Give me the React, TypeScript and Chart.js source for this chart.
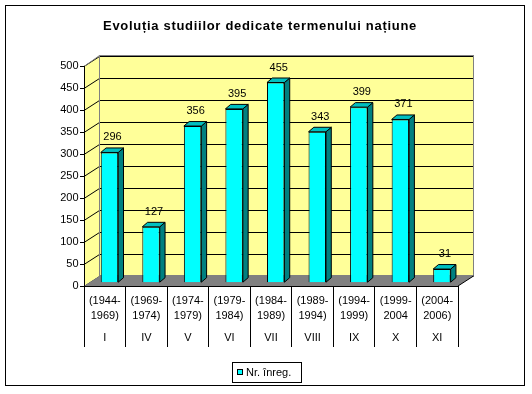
import React, { useEffect, useRef } from "react";
import { Chart, registerables } from "chart.js";

Chart.register(...registerables);

const chartTitle = "Evoluția studiilor dedicate termenului națiune";
const seriesName = "Nr. înreg.";
const periodLabels: string[][] = [
  ["(1944-", "1969)"],
  ["(1969-", "1974)"],
  ["(1974-", "1979)"],
  ["(1979-", "1984)"],
  ["(1984-", "1989)"],
  ["(1989-", "1994)"],
  ["(1994-", "1999)"],
  ["(1999-", "2004"],
  ["(2004-", "2006)"],
];
const romanLabels = ["I", "IV", "V", "VI", "VII", "VIII", "IX", "X", "XI"];
const values = [296, 127, 356, 395, 455, 343, 399, 371, 31];
const yMin = 0;
const yMax = 500;
const yStep = 50;

const FONT = "'Liberation Sans', Arial, sans-serif";
const WALL_DX = 15.5;
const WALL_DY = 10;
const BAR_OX = 4.7;
const BAR_OY = -3.3;
const BAR_DX = 5.3;
const BAR_DY = 4.5;

export default function App() {
  const ref = useRef<HTMLCanvasElement>(null);

  useEffect(() => {
    const canvas = ref.current!;
    const plugin = {
      id: "excel3d",
      beforeDraw(chart: any) {
        const ctx = chart.ctx;
        const ys = chart.scales.y;
        const { left, right } = chart.chartArea;
        const y0 = ys.getPixelForValue(yMin);
        const yT = ys.getPixelForValue(yMax);
        ctx.save();
        // side wall
        ctx.fillStyle = "#FFFF99";
        ctx.beginPath();
        ctx.moveTo(left, yT);
        ctx.lineTo(left + WALL_DX, yT - WALL_DY);
        ctx.lineTo(left + WALL_DX, y0 - WALL_DY);
        ctx.lineTo(left, y0);
        ctx.closePath();
        ctx.fill();
        // back wall
        ctx.fillRect(left + WALL_DX, yT - WALL_DY, right - left, y0 - yT);
        // gridlines
        ctx.strokeStyle = "#000";
        ctx.lineWidth = 1;
        for (let v = yMin; v <= yMax; v += yStep) {
          const y = Math.round(ys.getPixelForValue(v)) + 0.5;
          ctx.beginPath();
          ctx.moveTo(left, y);
          ctx.lineTo(left + WALL_DX, y - WALL_DY);
          ctx.lineTo(right + WALL_DX, y - WALL_DY);
          ctx.stroke();
        }
        // wall borders
        ctx.strokeStyle = "#808080";
        const wy = Math.round(yT) - WALL_DY - 0.5;
        ctx.strokeRect(Math.round(left + WALL_DX) - 0.5, wy, right - left, y0 - yT);
        ctx.beginPath();
        ctx.moveTo(left, Math.round(yT) + 0.5);
        ctx.lineTo(left + WALL_DX, wy);
        ctx.stroke();
        // floor
        ctx.fillStyle = "#808080";
        ctx.beginPath();
        ctx.moveTo(left, y0);
        ctx.lineTo(right, y0);
        ctx.lineTo(right + WALL_DX, y0 - WALL_DY);
        ctx.lineTo(left + WALL_DX, y0 - WALL_DY);
        ctx.closePath();
        ctx.fill();
        ctx.strokeStyle = "#000";
        ctx.beginPath();
        ctx.moveTo(right, y0);
        ctx.lineTo(right + WALL_DX, y0 - WALL_DY);
        ctx.stroke();
        ctx.restore();
      },
      beforeDatasetDraw(chart: any) {
        chart.ctx.save();
        chart.ctx.translate(BAR_OX, BAR_OY);
      },
      afterDatasetDraw(chart: any) {
        chart.ctx.restore();
      },
      afterDatasetsDraw(chart: any) {
        const ctx = chart.ctx;
        const meta = chart.getDatasetMeta(0);
        ctx.save();
        ctx.lineWidth = 1;
        ctx.strokeStyle = "#000";
        meta.data.forEach((el: any, i: number) => {
          const p = el.getProps(["x", "y", "base", "width"], true);
          const l = p.x - p.width / 2 + BAR_OX;
          const r = p.x + p.width / 2 + BAR_OX;
          const t = p.y + BAR_OY;
          const b = p.base + BAR_OY;
          // side
          ctx.fillStyle = "#008080";
          ctx.beginPath();
          ctx.moveTo(r, t);
          ctx.lineTo(r + BAR_DX, t - BAR_DY);
          ctx.lineTo(r + BAR_DX, b - BAR_DY);
          ctx.lineTo(r, b);
          ctx.closePath();
          ctx.fill();
          ctx.stroke();
          // top
          ctx.fillStyle = "#00C0C0";
          ctx.beginPath();
          ctx.moveTo(l, t);
          ctx.lineTo(l + BAR_DX, t - BAR_DY);
          ctx.lineTo(r + BAR_DX, t - BAR_DY);
          ctx.lineTo(r, t);
          ctx.closePath();
          ctx.fill();
          ctx.stroke();
          // value label
          ctx.fillStyle = "#000";
          ctx.font = `11px ${FONT}`;
          ctx.textAlign = "center";
          ctx.textBaseline = "alphabetic";
          ctx.fillText(String(values[i]), (l + r) / 2 + 3, t - 12);
        });
        ctx.restore();
      },
      afterDraw(chart: any) {
        const ctx = chart.ctx;
        const xs = chart.scales.x;
        ctx.save();
        // title
        ctx.fillStyle = "#000";
        ctx.font = `bold 13px ${FONT}`;
        ctx.textAlign = "left";
        ctx.textBaseline = "alphabetic";
        try {
          (ctx as any).letterSpacing = "0.7px";
        } catch (e) {}
        const tw = ctx.measureText(chartTitle).width;
        ctx.fillText(chartTitle, 260 - tw / 2, 29.5);
        try {
          (ctx as any).letterSpacing = "0px";
        } catch (e) {}
        // category dividers
        ctx.strokeStyle = "#000";
        ctx.lineWidth = 1;
        for (let i = 0; i <= romanLabels.length; i++) {
          const x = Math.floor(xs.getPixelForValue(i - 0.5)) + 0.5;
          ctx.beginPath();
          ctx.moveTo(x, xs.top);
          ctx.lineTo(x, 347);
          ctx.stroke();
        }
        // legend
        ctx.fillStyle = "#fff";
        ctx.fillRect(232.5, 362.5, 69, 20);
        ctx.strokeRect(232.5, 362.5, 69, 20);
        ctx.fillStyle = "#00FFFF";
        ctx.fillRect(237.5, 369.5, 5, 5);
        ctx.strokeRect(237.5, 369.5, 5, 5);
        ctx.fillStyle = "#000";
        ctx.font = `11px ${FONT}`;
        ctx.textAlign = "left";
        ctx.fillText(seriesName, 246, 376);
        // outer frame
        ctx.strokeRect(5.5, 5.5, 519, 380);
        ctx.restore();
      },
    };

    const tickFont = { size: 11, family: FONT, lineHeight: 15 / 11 };
    const chart = new Chart(canvas, {
      type: "bar",
      data: {
        labels: periodLabels as any,
        datasets: [
          {
            label: seriesName,
            data: values,
            backgroundColor: "#00FFFF",
            borderColor: "#000",
            borderWidth: 1,
            barPercentage: 0.42,
            categoryPercentage: 1,
            clip: false as any,
          },
        ],
      },
      options: {
        responsive: false,
        animation: false,
        devicePixelRatio: 1,
        layout: { padding: { left: 0, top: 66, right: 74, bottom: 0 } },
        plugins: {
          legend: { display: false },
          title: { display: false },
          tooltip: { enabled: false },
        },
        scales: {
          x: {
            type: "category",
            position: "bottom",
            offset: true,
            weight: 0,
            grid: { display: false, drawTicks: false },
            border: { display: true, color: "#000", width: 1 },
            ticks: { color: "#000", font: tickFont, padding: 7.5, maxRotation: 0, autoSkip: false },
            afterFit: (s: any) => {
              s.height = 37;
            },
          },
          x2: {
            type: "category",
            position: "bottom",
            labels: romanLabels,
            offset: true,
            weight: 1,
            grid: { display: false, drawTicks: false },
            border: { display: false },
            ticks: { color: "#000", font: tickFont, padding: 7.5, maxRotation: 0, autoSkip: false },
            afterFit: (s: any) => {
              s.height = 71;
            },
          },
          y: {
            min: yMin,
            max: yMax,
            ticks: { stepSize: yStep, color: "#000", font: { size: 11, family: FONT }, padding: 1.5 },
            grid: { display: true, drawOnChartArea: false, drawTicks: true, tickLength: 4, color: "#000" },
            border: { display: true, color: "#000", width: 1 },
            afterFit: (s: any) => {
              s.width = 84;
            },
          },
        },
      } as any,
      plugins: [plugin],
    });
    return () => chart.destroy();
  }, []);

  return (
    <div style={{ position: "absolute", left: 0, top: 0, width: 532, height: 394, background: "#fff" }}>
      <canvas ref={ref} width={532} height={394} style={{ display: "block" }} />
    </div>
  );
}
